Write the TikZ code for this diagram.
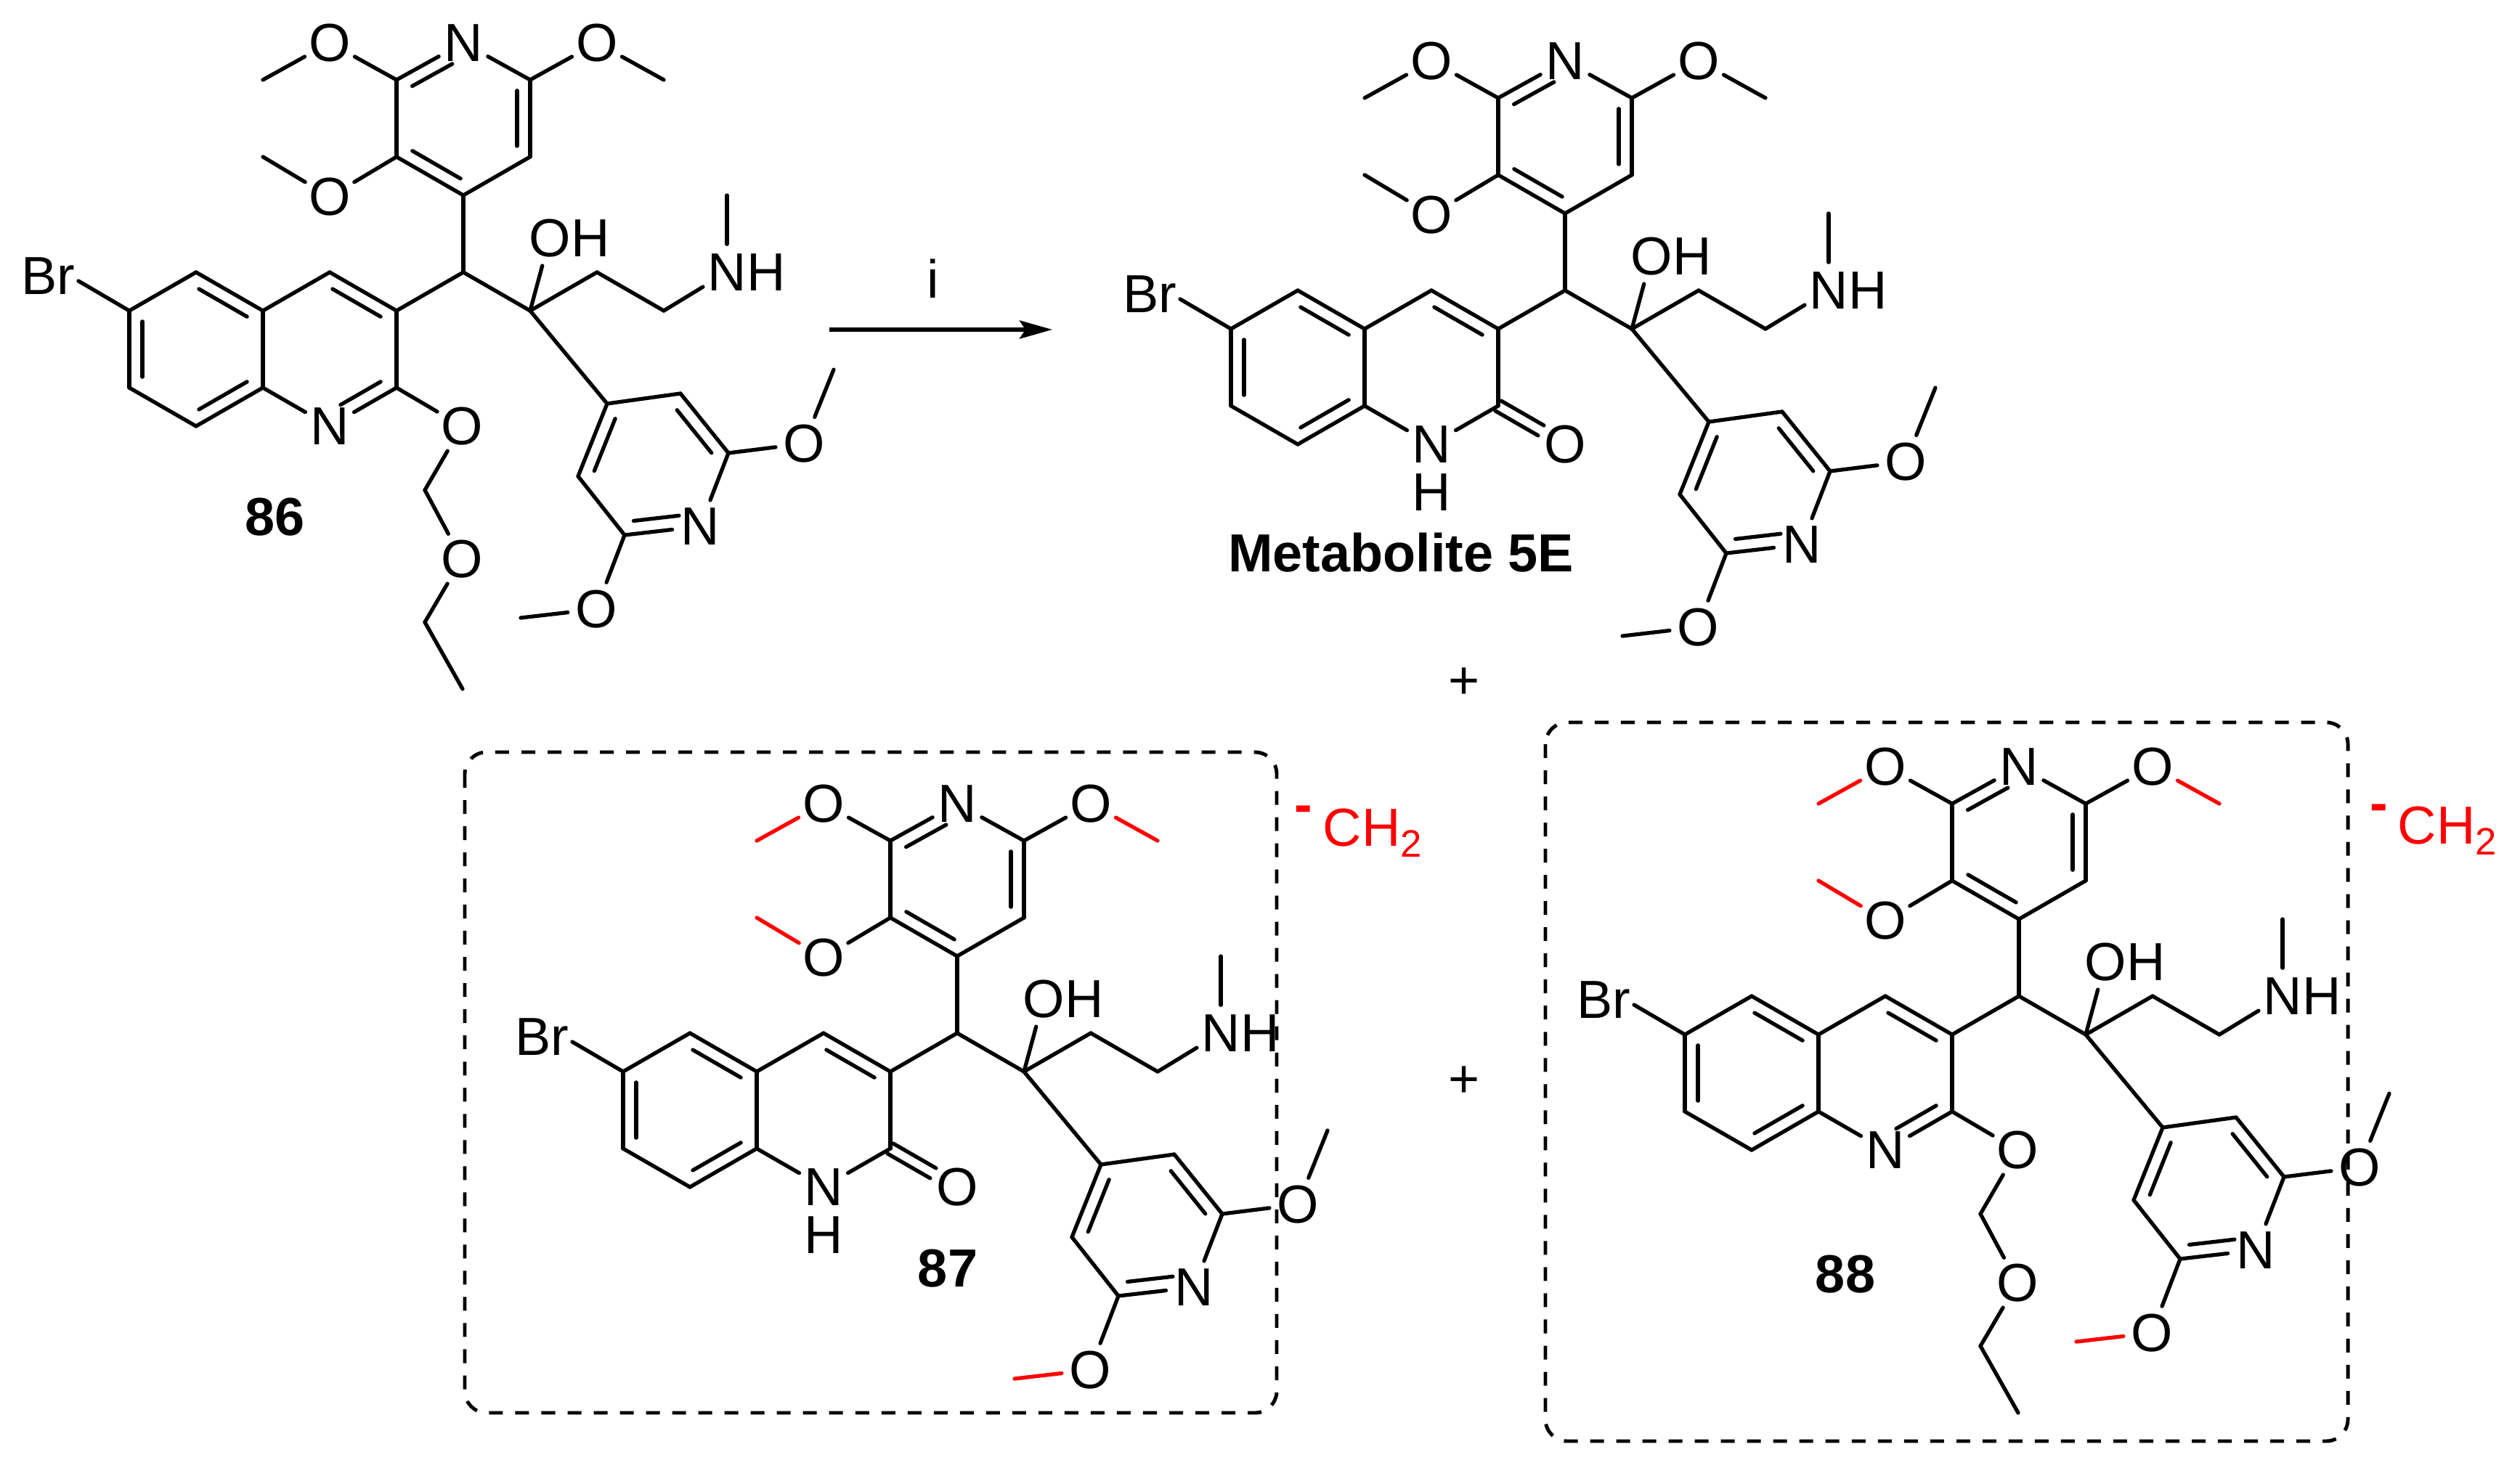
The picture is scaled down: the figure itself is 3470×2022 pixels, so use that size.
\documentclass[tikz,border=0pt]{standalone}
\usepackage{fontspec}
\setmainfont{Liberation Sans}
\usetikzlibrary{calc,arrows.meta}
\tikzset{
    bond/.style={line width=1.5pt,line cap=round},
    atom/.style={circle,inner sep=0pt,minimum size=0.76cm},
    lbl/.style={inner sep=0pt},
    tag/.style={inner sep=0pt,font=\fontsize{21}{25}\selectfont\bfseries},
    dashbox/.style={line width=1.4pt,dash pattern=on 0.19cm off 0.17cm,rounded corners=0.3cm},
    every node/.append style={font=\fontsize{21}{25}\selectfont}
}
% inner line of a double bond, lies left of the direction a to b
\newcommand{\dbond}[4]{\draw[bond]($(#1)!#3!(#2)!0.18cm!90:(#2)$)--($(#2)!#4!(#1)!0.18cm!-90:(#1)$);}
% the part all four molecules share, #1 is the colour of the lost methyls
\newcommand{\drugcore}[1]{
    \foreach \n/\x/\y in {CH/0/0,P2/-92/-265,P3/-92/-159,P4/0/-106,P5/92/-159,P6/92/-265,
        Q2/-92/159,Q3/-92/53,Q4/-184/0,Qa/-276/53,Q5/-368/0,Q6/-460/53,Q7/-460/159,Q8/-368/212,Qb/-276/159,
        CO/92/53,S1/184/0,S2/276/53,Me/363/-106,BrEnd/-530/12,
        R2/365/249,R3/299/167,R4/198/181,R5/158/281,R6/222/362,
        MeA/-276/-265,MeB/276/-265,MeC/-276/-159,MeD/510/134,MeE/79/476}
        {\coordinate(\n)at(\x,\y);}
    \foreach \n/\t/\x/\y in {PN/N/0/-316,OA/O/-184/-316,OB/O/184/-316,OC/O/-184/-104,QN/N/-184/212,
        ON/N/363/0,OH/O/119/-47,RN/N/326/350,OD/O/469/236,OE/O/183/464}
        {\node[atom](\n)at(\x,\y){\t};}
    \node[lbl](Br)at(-572,5){Br};
    \node[lbl](Hh)at(175,-47){H};
    \node[lbl](Hn)at(417,0){H};
    \foreach \a/\b in {P2/PN,PN/P6,P6/P5,P5/P4,P4/P3,P3/P2,P4/CH,CH/Q3,CH/CO,P2/OA,P6/OB,P3/OC,
        Q3/Q4,Q4/Qa,Qa/Q5,Q5/Q6,Q6/Q7,Q7/Q8,Q8/Qb,Qb/Qa,Qb/QN,QN/Q2,Q2/Q3,Q6/BrEnd,
        CO/OH,CO/S1,S1/S2,S2/ON,ON/Me,CO/R4,R4/R3,R3/R2,R2/RN,RN/R6,R6/R5,R5/R4,R2/OD,OD/MeD,R6/OE}
        {\draw[bond](\a)--(\b);}
    \foreach \a/\b in {OA/MeA,OB/MeB,OC/MeC,OE/MeE}
        {\draw[bond,#1](\a)--(\b);}
    \dbond{PN}{P2}{0.26}{0.14}
    \dbond{P3}{P4}{0.14}{0.14}
    \dbond{P5}{P6}{0.14}{0.14}
    \dbond{Q6}{Q7}{0.14}{0.14}
    \dbond{Q8}{Qb}{0.14}{0.14}
    \dbond{Qa}{Q5}{0.14}{0.14}
    \dbond{Q3}{Q4}{0.14}{0.14}
    \dbond{R4}{R5}{0.14}{0.14}
    \dbond{R6}{RN}{0.14}{0.26}
    \dbond{R2}{R3}{0.14}{0.14}
}
\newcommand{\etherarm}{
    \dbond{QN}{Q2}{0.26}{0.14}
    \node[atom](OF)at(-2,212){O};
    \node[atom](OG)at(-2,395){O};
    \coordinate(T1)at(-53,300);
    \coordinate(T2)at(-53,482);
    \coordinate(T3)at(-1,574);
    \foreach \a/\b in {Q2/OF,OF/T1,T1/OG,OG/T2,T2/T3}
        {\draw[bond](\a)--(\b);}
}
\newcommand{\lactam}{
    \node[lbl](Hq)at(-184,278){H};
    \node[atom](OF)at(0,212){O};
    \draw[bond]($(Q2)!0.08cm!90:(OF)$)--($(OF)!0.36!(Q2)!0.08cm!-90:(Q2)$);
    \draw[bond]($(Q2)!0.08cm!-90:(OF)$)--($(OF)!0.36!(Q2)!0.08cm!90:(Q2)$);
}
\newcommand{\chtwo}{CH\raisebox{-0.15cm}{\fontsize{15}{18}\selectfont 2}}
\begin{document}
\begin{tikzpicture}[>={Stealth[length=0.45cm,width=0.25cm,inset=0.08cm]},x=0.01cm,y=-0.01cm]
    \useasboundingbox(0,0)rectangle(3470,2022);
    % top row
    \begin{scope}[shift={(638,375)},name prefix=a-]
        \drugcore{black}
        \etherarm
    \end{scope}
    \begin{scope}[shift={(2155,400)},name prefix=b-]
        \drugcore{black}
        \lactam
    \end{scope}
    \node[tag](n86)at(379,712){86};
    \node[tag](n5E)at(1929,761){Metabolite 5E};
    \coordinate(arrowA)at(1142,454);
    \coordinate(arrowB)at(1449,454);
    \draw[->,line width=1.6pt](arrowA)--(arrowB);
    \node[lbl](cond)at(1285,384){i};
    \node[lbl](plusA)at(2016,941){+};
    \node[lbl](plusB)at(2016,1490){+};
    % bottom row
    \draw[dashbox](640,1036)rectangle(1758,1946);
    \draw[dashbox](2128,995)rectangle(3233,1985);
    \begin{scope}[shift={(1318,1423)},name prefix=c-]
        \drugcore{red}
        \lactam
    \end{scope}
    \begin{scope}[shift={(2780,1372)},name prefix=d-]
        \drugcore{red}
        \etherarm
    \end{scope}
    \node[tag](n87)at(1305,1747){87};
    \node[tag](n88)at(2541,1755){88};
    \node[tag,red](minusA)at(1795,1122){-};
    \node[lbl,red,anchor=base west](ch2A)at(1821,1165){\chtwo};
    \node[tag,red](minusB)at(3276,1120){-};
    \node[lbl,red,anchor=base west](ch2B)at(3301,1162){\chtwo};
\end{tikzpicture}
\end{document}
